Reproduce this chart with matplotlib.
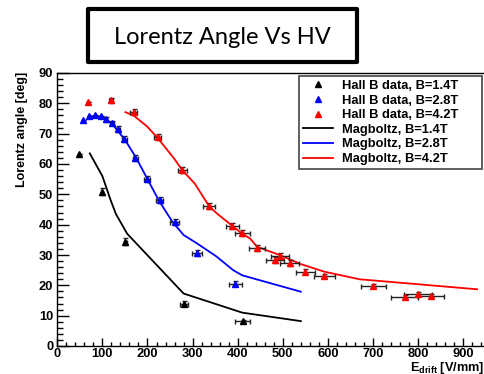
import matplotlib
matplotlib.use("Agg")
import matplotlib.pyplot as plt
from matplotlib.patches import Rectangle
from matplotlib.lines import Line2D

plt.rcParams['font.family'] = ['Liberation Sans', 'DejaVu Sans']
plt.rcParams['mathtext.fontset'] = 'custom'
plt.rcParams['mathtext.rm'] = 'Liberation Sans:bold'
plt.rcParams['mathtext.bf'] = 'Liberation Sans:bold'

# ---------------- data ----------------
b14_x = [48, 99, 151, 280, 411]
b14_y = [63.4, 50.9, 34.4, 14.0, 8.1]
b14_xerr = [0, 3, 4, 9, 16]
b14_yerr = [0, 1.2, 1.2, 0.7, 0.5]

b28_x = [57, 70, 83, 96, 108, 121, 134, 149, 173, 199, 227, 260, 310, 395]
b28_y = [74.6, 75.7, 76.1, 75.9, 74.8, 73.5, 71.5, 68.3, 62.0, 55.0, 48.2, 40.8, 30.6, 20.6]
b28_xerr = [0, 0, 0, 0, 3, 4, 4, 5, 6, 7, 8, 10, 11, 15]
b28_yerr = [0, 0, 0, 0, 0.8, 0.8, 0.9, 0.9, 1.0, 1.0, 1.0, 1.0, 1.0, 0.8]

b42_x = [68, 119, 169, 223, 277, 337, 388, 410, 443, 483, 494, 515, 550, 592, 701, 770, 799, 829]
b42_y = [80.3, 81.0, 77.0, 68.9, 57.9, 46.2, 39.6, 37.1, 32.2, 28.3, 29.7, 27.5, 24.5, 23.0, 19.9, 16.1, 17.1, 16.6]
b42_xerr = [0, 4, 7, 8, 10, 13, 15, 17, 17, 20, 20, 21, 21, 23, 27, 30, 31, 29]
b42_yerr = [0, 0.8, 1.0, 1.0, 1.0, 1.0, 1.0, 1.0, 1.0, 1.0, 1.0, 1.0, 0.8, 0.7, 0.6, 0.6, 0.6, 0.6]

m14_x = [72, 100, 118, 130, 155, 280, 410, 540]
m14_y = [63.5, 56.0, 48.2, 43.5, 37.0, 17.3, 11.0, 8.2]

m28_x = [70, 100, 120, 150, 175, 200, 225, 255, 280, 309, 353, 390, 410, 540]
m28_y = [75.8, 75.6, 73.5, 68.0, 62.0, 55.0, 48.0, 41.0, 36.6, 33.9, 29.5, 25.0, 23.3, 17.9]

m42_x = [151, 169, 199, 223, 258, 277, 305, 337, 353, 388, 410, 427, 443, 493, 540, 592, 670, 931]
m42_y = [77.1, 76.0, 72.4, 68.5, 62.0, 58.0, 53.5, 46.0, 43.8, 39.6, 37.0, 35.5, 32.7, 30.0, 27.0, 24.5, 22.0, 18.7]

labels = ["Hall B data, B=1.4T", "Hall B data, B=2.8T", "Hall B data, B=4.2T",
          "Magboltz, B=1.4T", "Magboltz, B=2.8T", "Magboltz, B=4.2T"]
colors = ["black", "blue", "red"]

# ---------------- figure ----------------
W, H = 485, 374
fig = plt.figure(figsize=(W / 100, H / 100), dpi=100)
ax_l, ax_r, ax_b, ax_t = 57.3, 488, 346, 73
ax = fig.add_axes([ax_l / W, (H - ax_b) / H, (ax_r - ax_l) / W, (ax_b - ax_t) / H])

ax.plot(m14_x, m14_y, color="black", lw=1.3, zorder=2)
ax.plot(m28_x, m28_y, color="blue", lw=1.3, zorder=2)
ax.plot(m42_x, m42_y, color="red", lw=1.3, zorder=2)

for xs, ys, xe, ye, c in [(b14_x, b14_y, b14_xerr, b14_yerr, "black"),
                          (b28_x, b28_y, b28_xerr, b28_yerr, "blue"),
                          (b42_x, b42_y, b42_xerr, b42_yerr, "red")]:
    ax.errorbar(xs, ys, xerr=xe, yerr=ye, fmt="none", ecolor="#222222",
                elinewidth=1.0, capsize=1.8, capthick=1.0, zorder=3)
    ax.plot(xs, ys, ls="none", marker="^", ms=5, color=c, mec=c, zorder=4)

ax.set_xlim(0, (ax_r - ax_l) / 0.451)
ax.set_ylim(0, 90)
ax.set_xticks(range(0, 1000, 100))
ax.set_xticks(range(0, 960, 20), minor=True)
ax.set_yticks(range(0, 91, 10))
ax.set_yticks(range(0, 91, 2), minor=True)
ax.tick_params(axis="both", which="both", direction="in", labelsize=9.3, width=1.0)
ax.tick_params(axis="y", which="major", length=8.5, pad=3)
ax.tick_params(axis="y", which="minor", length=4.3)
ax.tick_params(axis="x", which="major", length=5.5, pad=1.5)
ax.tick_params(axis="x", which="minor", length=3)
for lab in ax.get_xticklabels() + ax.get_yticklabels():
    lab.set_fontweight("bold")
for s in ax.spines.values():
    s.set_linewidth(1.0)

# axis titles
fig.text(22 / W, (H - 72) / H, "Lorentz angle [deg]", rotation=90, ha="center", va="top",
         fontsize=9, fontweight="bold")
fig.text(484 / W, 3.5 / H, r"E$_{\mathrm{drift}}$ [V/mm]", ha="right", va="baseline",
         fontsize=9.2, fontweight="bold")

# legend
handles = [Line2D([], [], ls="none", marker="^", ms=4, color=c) for c in colors] + \
          [Line2D([], [], color=c, lw=1.3) for c in colors]
leg = ax.legend(handles, labels, loc="upper left",
                bbox_to_anchor=(299 / W, (H - 173) / H, 183 / W, 97 / H),
                bbox_transform=fig.transFigure, mode="expand",
                prop={"family": "Liberation Sans", "weight": "bold", "size": 9.3},
                handlelength=2.3, handletextpad=0.7, labelspacing=0.2,
                borderpad=0.3, borderaxespad=0, fancybox=False, framealpha=1,
                edgecolor="#444444")
leg.get_frame().set_linewidth(1.2)
leg.set_zorder(10)

# title box
fig.patches.append(Rectangle((88 / W, (H - 62) / H), (357 - 88) / W, (62 - 9) / H,
                             transform=fig.transFigure, fill=False, edgecolor="black",
                             linewidth=3.0, joinstyle="round"))
fig.text(222 / W, (H - 37) / H, "Lorentz Angle Vs HV", ha="center", va="center",
         fontsize=17, family="Lato")

fig.savefig("out.png", dpi=100)
